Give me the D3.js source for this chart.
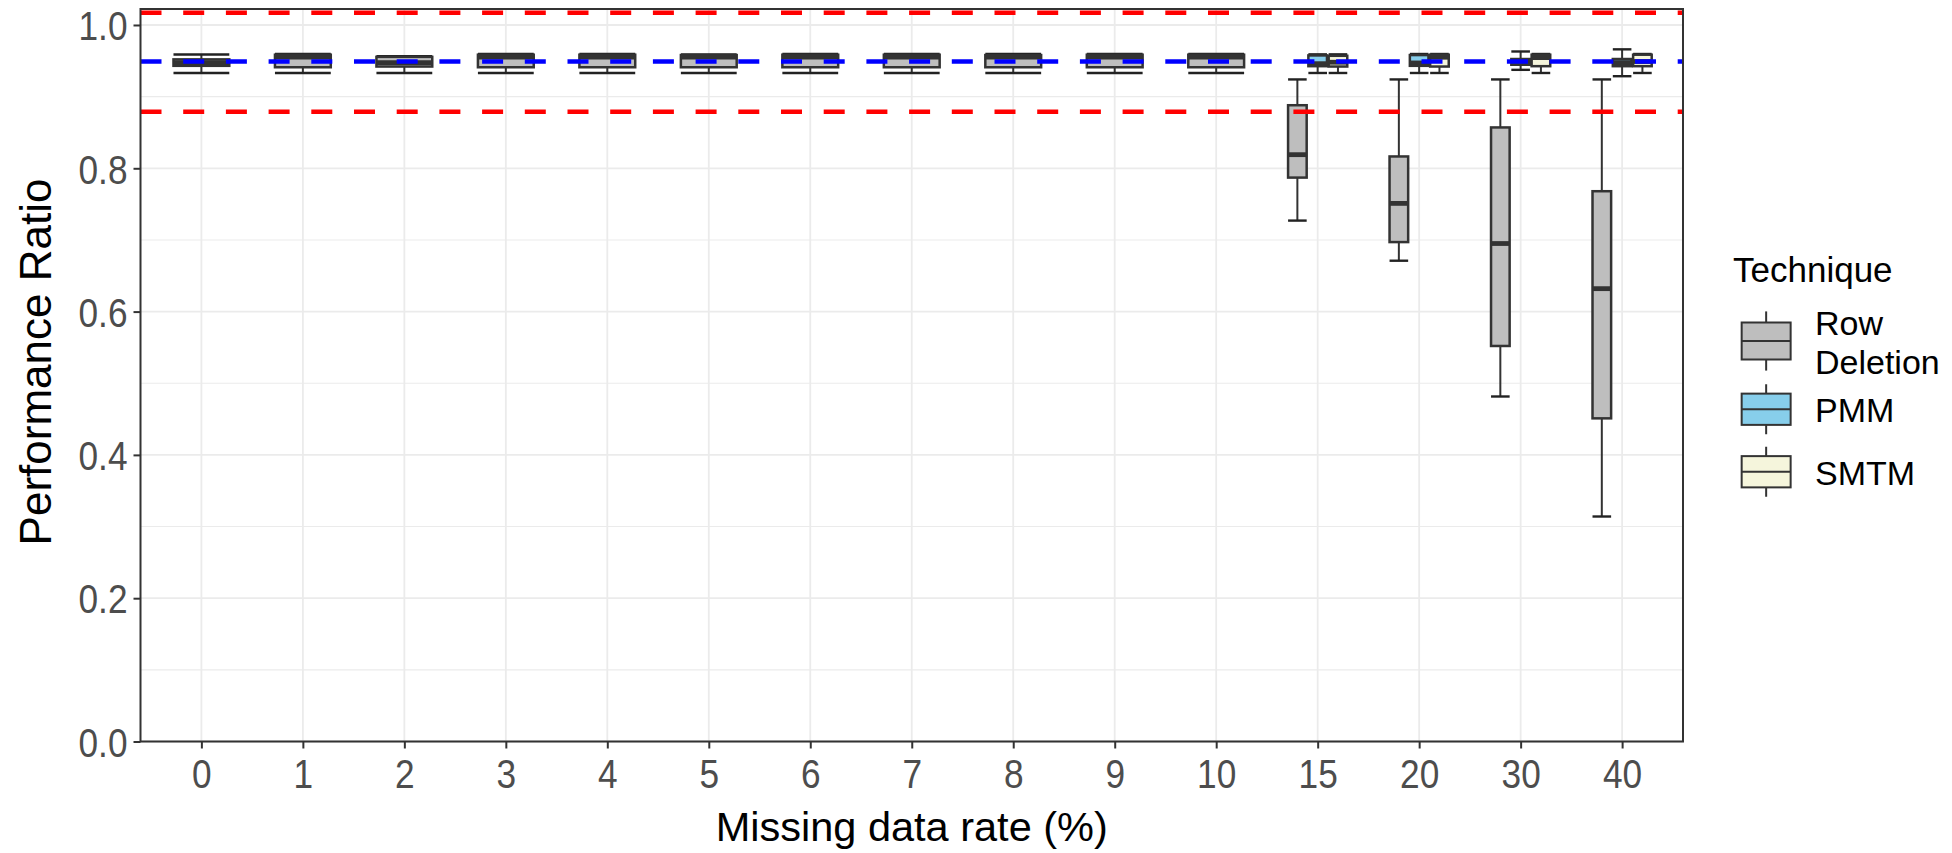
<!DOCTYPE html>
<html>
<head>
<meta charset="utf-8">
<script src="https://cdn.jsdelivr.net/npm/d3@7"></script>
<style>
  html, body { margin: 0; padding: 0; background: #ffffff; }
  svg { display: block; font-family: "Liberation Sans", Arial, sans-serif; }
</style>
</head>
<body>
<svg id="chart" width="1952" height="853"></svg>
<script>
// Missing data rates (%) on the x axis
const rates = ["0", "1", "2", "3", "4", "5", "6", "7", "8", "9", "10", "15", "20", "30", "40"];
const techniques = ["Row Deletion", "PMM", "SMTM"];
const techniqueFills = ["#bebebe", "#87ceeb", "#f5f5dc"];

// Five-number summaries per rate: [lower whisker, Q1, median, Q3, upper whisker]
const rowDeletion = [
  [0.933, 0.943, 0.9475, 0.952, 0.9588],
  [0.933, 0.941, 0.955, 0.9585, 0.9595],
  [0.933, 0.942, 0.9475, 0.9555, 0.9565],
  [0.933, 0.941, 0.955, 0.9585, 0.9595],
  [0.933, 0.941, 0.955, 0.9585, 0.9595],
  [0.933, 0.941, 0.955, 0.958, 0.959],
  [0.933, 0.941, 0.955, 0.9585, 0.9595],
  [0.933, 0.941, 0.955, 0.9585, 0.9595],
  [0.933, 0.941, 0.955, 0.958, 0.9595],
  [0.933, 0.941, 0.955, 0.9585, 0.9595],
  [0.933, 0.941, 0.955, 0.9585, 0.9595],
  [0.727, 0.787, 0.819, 0.888, 0.924],
  [0.671, 0.697, 0.751, 0.8165, 0.924],
  [0.4815, 0.552, 0.695, 0.857, 0.924],
  [0.314, 0.451, 0.632, 0.768, 0.924]
];
const pmm = [
  null, null, null, null, null, null, null, null, null, null, null,
  [0.933, 0.9425, 0.946, 0.9575, 0.959],
  [0.933, 0.943, 0.947, 0.958, 0.9595],
  [0.9374, 0.9445, 0.949, 0.9525, 0.963],
  [0.9285, 0.9425, 0.9475, 0.9525, 0.966]
];
const smtm = [
  null, null, null, null, null, null, null, null, null, null, null,
  [0.933, 0.942, 0.948, 0.957, 0.959],
  [0.933, 0.942, 0.955, 0.9585, 0.9595],
  [0.933, 0.9425, 0.9545, 0.9585, 0.9595],
  [0.933, 0.9425, 0.949, 0.9585, 0.9595]
];

// Reference lines: target ratio and tolerance band
const targetRatio = 0.949;
const toleranceBand = [0.879, 1.017];

const yTicks = [0, 0.2, 0.4, 0.6, 0.8, 1.0];
const yMinorTicks = [0.1, 0.3, 0.5, 0.7, 0.9];

const seriesByTechnique = [rowDeletion, pmm, smtm];

// ---- layout ----
const panel = { left: 140.5, right: 1683, top: 9, bottom: 741.5 };
const svg = d3.select("#chart");

const x = d3.scalePoint().domain(rates).range([panel.left, panel.right]).padding(0.6);
const y = d3.scaleLinear().domain([0, 1.0223]).range([panel.bottom, panel.top]);
const fill = d3.scaleOrdinal().domain(techniques).range(techniqueFills);
const step = x.step();

const gridColor = "#ebebeb";
const inkColor = "#333333";

// ---- grid ----
const grid = svg.append("g");
grid.selectAll("line.minor").data(yMinorTicks).join("line")
  .attr("x1", panel.left).attr("x2", panel.right)
  .attr("y1", d => y(d)).attr("y2", d => y(d))
  .attr("stroke", gridColor).attr("stroke-width", 1.1);
grid.selectAll("line.majorY").data(yTicks).join("line")
  .attr("x1", panel.left).attr("x2", panel.right)
  .attr("y1", d => y(d)).attr("y2", d => y(d))
  .attr("stroke", gridColor).attr("stroke-width", 1.8);
grid.selectAll("line.majorX").data(rates).join("line")
  .attr("x1", d => x(d)).attr("x2", d => x(d))
  .attr("y1", panel.top).attr("y2", panel.bottom)
  .attr("stroke", gridColor).attr("stroke-width", 1.8);

// ---- boxplots (dodged within each rate) ----
const boxes = [];
rates.forEach((rate, i) => {
  const present = techniques
    .map((t, k) => ({ technique: t, stats: seriesByTechnique[k][i] }))
    .filter(d => d.stats);
  const n = present.length;
  const slot = 0.6 * step / n;
  const width = 0.55 * step / n;
  present.forEach((d, j) => {
    boxes.push({
      rate, technique: d.technique, stats: d.stats,
      cx: x(rate) + (j - (n - 1) / 2) * slot,
      w: width
    });
  });
});

const boxG = svg.append("g")
  .selectAll("g").data(boxes).join("g");

// whisker line with end caps
boxG.append("line")
  .attr("x1", d => d.cx).attr("x2", d => d.cx)
  .attr("y1", d => y(d.stats[0])).attr("y2", d => y(d.stats[4]))
  .attr("stroke", inkColor).attr("stroke-width", 2);
boxG.selectAll("line.cap").data(d => [d.stats[0], d.stats[4]].map(v => ({ v, d }))).join("line")
  .attr("x1", c => c.d.cx - c.d.w / 2).attr("x2", c => c.d.cx + c.d.w / 2)
  .attr("y1", c => y(c.v)).attr("y2", c => y(c.v))
  .attr("stroke", "#222222").attr("stroke-width", 2.4);
// box body
boxG.append("rect")
  .attr("x", d => d.cx - d.w / 2).attr("width", d => d.w)
  .attr("y", d => y(d.stats[3])).attr("height", d => y(d.stats[1]) - y(d.stats[3]))
  .attr("fill", d => fill(d.technique))
  .attr("stroke", inkColor).attr("stroke-width", 2.5);
// median
boxG.append("line")
  .attr("x1", d => d.cx - d.w / 2).attr("x2", d => d.cx + d.w / 2)
  .attr("y1", d => y(d.stats[2])).attr("y2", d => y(d.stats[2]))
  .attr("stroke", inkColor).attr("stroke-width", 4.8);

// ---- reference lines ----
const refs = svg.append("g");
refs.selectAll("line.band").data(toleranceBand).join("line")
  .attr("x1", panel.left).attr("x2", panel.right)
  .attr("y1", d => y(d)).attr("y2", d => y(d))
  .attr("stroke", "#ff0000").attr("stroke-width", 4.5)
  .attr("stroke-dasharray", "21,21.7");
refs.append("line")
  .attr("x1", panel.left).attr("x2", panel.right)
  .attr("y1", y(targetRatio)).attr("y2", y(targetRatio))
  .attr("stroke", "#0000ff").attr("stroke-width", 4.5)
  .attr("stroke-dasharray", "21,21.7");

// ---- panel border ----
svg.append("rect")
  .attr("x", panel.left).attr("y", panel.top)
  .attr("width", panel.right - panel.left).attr("height", panel.bottom - panel.top)
  .attr("fill", "none").attr("stroke", inkColor).attr("stroke-width", 2);

// ---- axes ----
const tickFont = 41;
const yAxis = svg.append("g")
  .attr("transform", `translate(${panel.left},0)`)
  .call(d3.axisLeft(y).tickValues(yTicks).tickFormat(d3.format(".1f")).tickSize(7).tickPadding(6));
const xAxis = svg.append("g")
  .attr("transform", `translate(0,${panel.bottom})`)
  .call(d3.axisBottom(x).tickSize(7).tickPadding(8));
[yAxis, xAxis].forEach(ax => {
  ax.select(".domain").remove();
  ax.selectAll(".tick line").attr("stroke", inkColor).attr("stroke-width", 2);
  ax.selectAll(".tick text")
    .attr("fill", "#4d4d4d")
    .style("font-size", tickFont + "px")
    .style("font-family", "'Liberation Sans', Arial, sans-serif");
});
// narrower tick glyphs
yAxis.selectAll(".tick text").attr("transform", "scale(0.86,1)").attr("x", -13 / 0.86).attr("dy", "0.36em");
xAxis.selectAll(".tick text").attr("transform", "scale(0.86,1)").attr("dy", "0.78em");

// axis titles
svg.append("text")
  .attr("x", (panel.left + panel.right) / 2).attr("y", 841)
  .attr("text-anchor", "middle")
  .style("font-size", "41.5px").attr("fill", "#000")
  .text("Missing data rate (%)");
svg.append("text")
  .attr("transform", `translate(51,362) rotate(-90)`)
  .attr("text-anchor", "middle")
  .style("font-size", "44px").attr("fill", "#000")
  .text("Performance Ratio");

// ---- legend ----
const legend = svg.append("g");
legend.append("text")
  .attr("x", 1733).attr("y", 282)
  .style("font-size", "35px").attr("fill", "#000")
  .text("Technique");

const keyHeights = [74, 62.5, 62.5];
const keyWidth = 65.3;
const keyX = 1733.5;
const labelLines = [["Row", "Deletion"], ["PMM"], ["SMTM"]];
let keyTop = 304;
techniques.forEach((t, i) => {
  const h = keyHeights[i];
  const g = legend.append("g").attr("transform", `translate(${keyX},${keyTop})`);
  g.append("line").attr("x1", keyWidth / 2).attr("x2", keyWidth / 2)
    .attr("y1", 0.1 * h).attr("y2", 0.25 * h).attr("stroke", inkColor).attr("stroke-width", 2);
  g.append("line").attr("x1", keyWidth / 2).attr("x2", keyWidth / 2)
    .attr("y1", 0.75 * h).attr("y2", 0.9 * h).attr("stroke", inkColor).attr("stroke-width", 2);
  g.append("rect")
    .attr("x", 0.125 * keyWidth).attr("width", 0.75 * keyWidth)
    .attr("y", 0.25 * h).attr("height", 0.5 * h)
    .attr("fill", fill(t)).attr("stroke", inkColor).attr("stroke-width", 2);
  g.append("line").attr("x1", 0.125 * keyWidth).attr("x2", 0.875 * keyWidth)
    .attr("y1", 0.5 * h).attr("y2", 0.5 * h).attr("stroke", inkColor).attr("stroke-width", 2);

  const lines = labelLines[i];
  const cy = keyTop + h / 2;
  const lineH = 39;
  const label = legend.append("text")
    .attr("x", 1815)
    .style("font-size", "34px").attr("fill", "#000");
  lines.forEach((ln, k) => {
    label.append("tspan")
      .attr("x", 1815)
      .attr("y", cy - (lines.length - 1) * lineH / 2 + k * lineH + 13)
      .text(ln);
  });
  keyTop += h;
});
</script>
</body>
</html>
